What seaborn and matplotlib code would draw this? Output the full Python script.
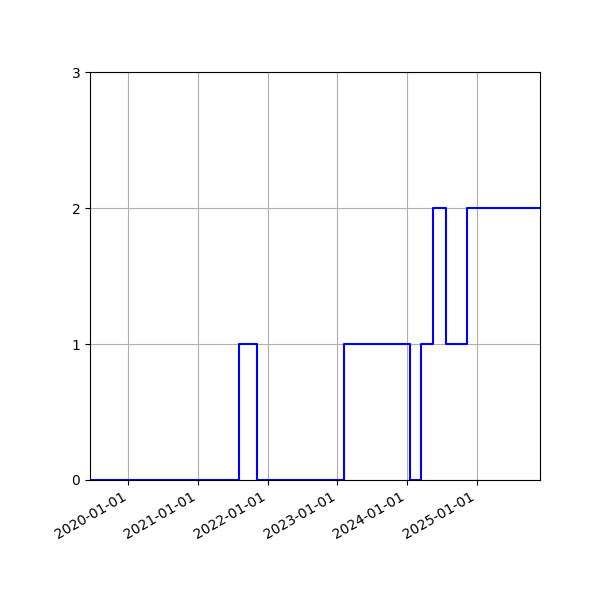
import matplotlib
matplotlib.use("Agg")
import matplotlib.pyplot as plt
import matplotlib.dates as mdates
import seaborn as sns
import pandas as pd

change_dates = ["2019-06-14", "2021-08-04", "2021-11-06", "2023-02-05",
                "2024-01-15", "2024-03-14", "2024-05-16", "2024-07-21",
                "2024-11-11", "2025-11-28"]
counts = [0, 1, 0, 1, 0, 1, 2, 1, 2, 2]
y_ticks = [0, 1, 2, 3]

df = pd.DataFrame({"date": pd.to_datetime(change_dates), "count": counts})

fig, ax = plt.subplots(figsize=(6, 6), dpi=100)
sns.lineplot(data=df, x="date", y="count", ax=ax, color="blue",
             drawstyle="steps-post", linewidth=1.5)
ax.set_xlim(df["date"].iloc[0], df["date"].iloc[-1])
ax.set_ylim(0, 3)
ax.set_yticks(y_ticks)
ax.xaxis.set_major_locator(mdates.YearLocator())
ax.xaxis.set_major_formatter(mdates.DateFormatter("%Y-%m-%d"))
ax.grid(True)
ax.set_xlabel("")
ax.set_ylabel("")
fig.autofmt_xdate()
fig.subplots_adjust(left=0.15, right=0.9, top=0.88, bottom=0.2)
fig.savefig("out.png", dpi=100)
